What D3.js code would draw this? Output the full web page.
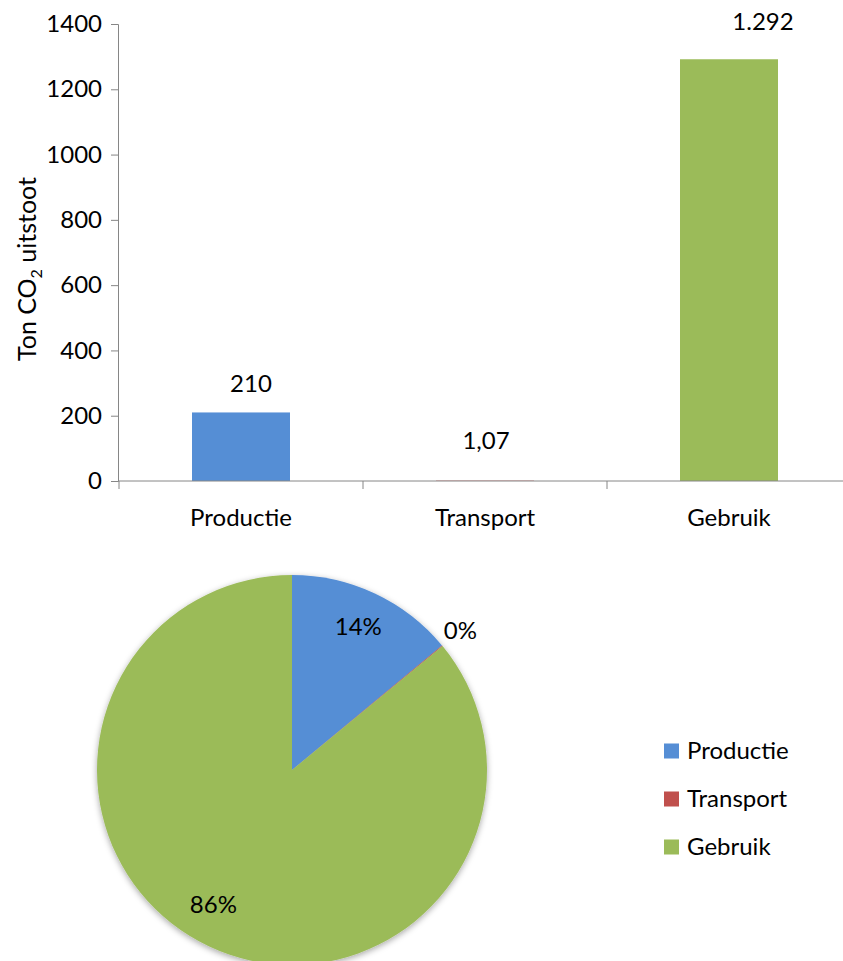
<!DOCTYPE html>
<html>
<head>
<meta charset="utf-8">
<script src="https://cdn.jsdelivr.net/npm/d3@7/dist/d3.min.js"></script>
<style>
  body { margin: 0; background: #fff; }
  svg { display: block; font-family: Lato, "Open Sans", sans-serif; }
</style>
</head>
<body>
<div id="chart"></div>
<script>
// Data
const categories = ["Productie", "Transport", "Gebruik"];
const values = [210, 1.07, 1292];
const valueLabels = ["210", "1,07", "1.292"];
const yTicks = [0, 200, 400, 600, 800, 1000, 1200, 1400];
const pieLabels = ["14%", "0%", "86%"];
const colors = ["#558ED5", "#C0504D", "#9BBB59"];

const width = 843;
const height = 961;
const fs = 24;

const svg = d3.select("#chart").append("svg")
    .attr("width", width)
    .attr("height", height);

// ---- bar chart ----
const x = d3.scaleBand()
    .domain(categories)
    .range([119, 851])
    .paddingInner(0)
    .paddingOuter(0);

const y = d3.scaleLinear()
    .domain([0, 1400])
    .range([481, 24]);

const barW = 98;
const axisColor = "#868686";

// y axis
const yAxis = svg.append("g")
    .attr("transform", "translate(118,0)")
    .call(d3.axisLeft(y).tickValues(yTicks).tickFormat(d3.format("d")).tickSize(7).tickPadding(9));
yAxis.select(".domain").attr("stroke", axisColor);
yAxis.selectAll(".tick line").attr("stroke", axisColor);
yAxis.selectAll(".tick text")
    .attr("font-size", fs)
    .attr("font-family", "Lato, sans-serif")
    .attr("fill", "#000");

// bars
svg.append("g")
    .selectAll("rect")
    .data(values)
    .join("rect")
    .attr("x", (d, i) => x(categories[i]) + (x.bandwidth() - barW) / 2)
    .attr("y", d => y(d))
    .attr("width", barW)
    .attr("height", d => y(0) - y(d))
    .attr("fill", (d, i) => colors[i]);

// x axis
const xAxisG = svg.append("g").attr("transform", "translate(0,481)");
xAxisG.append("line")
    .attr("x1", 118).attr("x2", width)
    .attr("stroke", axisColor);
xAxisG.selectAll("line.tk")
    .data(categories.concat(["end"]))
    .join("line")
    .attr("class", "tk")
    .attr("x1", (d, i) => 119 + i * x.bandwidth())
    .attr("x2", (d, i) => 119 + i * x.bandwidth())
    .attr("y1", 0).attr("y2", 8)
    .attr("stroke", axisColor);
xAxisG.selectAll("text")
    .data(categories)
    .join("text")
    .attr("x", d => x(d) + x.bandwidth() / 2)
    .attr("y", 45)
    .attr("text-anchor", "middle")
    .attr("font-size", fs)
    .text(d => d);

// value labels (moved by hand in the original, so each gets its own nudge)
const labelDx = [10, 1, 34];
const labelDy = [-20, -32, -29];
svg.append("g")
    .selectAll("text")
    .data(values)
    .join("text")
    .attr("x", (d, i) => x(categories[i]) + x.bandwidth() / 2 + labelDx[i])
    .attr("y", (d, i) => y(d) + labelDy[i])
    .attr("text-anchor", "middle")
    .attr("font-size", fs)
    .text((d, i) => valueLabels[i]);

// y axis title with subscript
const yTitle = svg.append("text")
    .attr("transform", "translate(36,269) rotate(-90)")
    .attr("text-anchor", "middle")
    .attr("font-size", 25);
yTitle.append("tspan").text("Ton CO");
yTitle.append("tspan").attr("font-size", 16).attr("dy", 6).text("2");
yTitle.append("tspan").attr("dy", -6).text(" uitstoot");

// ---- pie chart ----
const cx = 292, cy = 770, r = 195;

const defs = svg.append("defs");
const shadow = defs.append("filter").attr("id", "shadow")
    .attr("x", "-10%").attr("y", "-10%").attr("width", "120%").attr("height", "120%");
shadow.append("feDropShadow")
    .attr("dx", 0).attr("dy", 2).attr("stdDeviation", 3)
    .attr("flood-color", "#000").attr("flood-opacity", 0.35);

const pie = d3.pie().sort(null).value(d => d);
const arcs = pie(values);
const arc = d3.arc().innerRadius(0).outerRadius(r);
const inLabel = d3.arc().innerRadius(r * 0.8).outerRadius(r * 0.8);
const outLabel = d3.arc().innerRadius(r * 1.12).outerRadius(r * 1.12);

const pieG = svg.append("g").attr("transform", `translate(${cx},${cy})`);
pieG.append("g")
    .attr("filter", "url(#shadow)")
    .selectAll("path")
    .data(arcs)
    .join("path")
    .attr("d", arc)
    .attr("fill", (d, i) => colors[i]);

const pieNudge = [[0, -2], [0, 0], [-12, -6]];
pieG.selectAll("text")
    .data(arcs)
    .join("text")
    .attr("transform", (d, i) => {
        const c = (i === 1 ? outLabel : inLabel).centroid(d);
        return `translate(${c[0] + pieNudge[i][0]},${c[1] + pieNudge[i][1]})`;
    })
    .attr("text-anchor", "middle")
    .attr("dy", "0.35em")
    .attr("font-size", fs)
    .text((d, i) => pieLabels[i]);

// legend
const legend = svg.append("g").attr("transform", "translate(664,751)");
const item = legend.selectAll("g")
    .data(categories)
    .join("g")
    .attr("transform", (d, i) => `translate(0,${i * 48})`);
item.append("rect")
    .attr("y", -7.5)
    .attr("width", 15).attr("height", 15)
    .attr("fill", (d, i) => colors[i]);
item.append("text")
    .attr("x", 23)
    .attr("dy", "0.35em")
    .attr("font-size", fs)
    .text(d => d);
</script>
</body>
</html>
